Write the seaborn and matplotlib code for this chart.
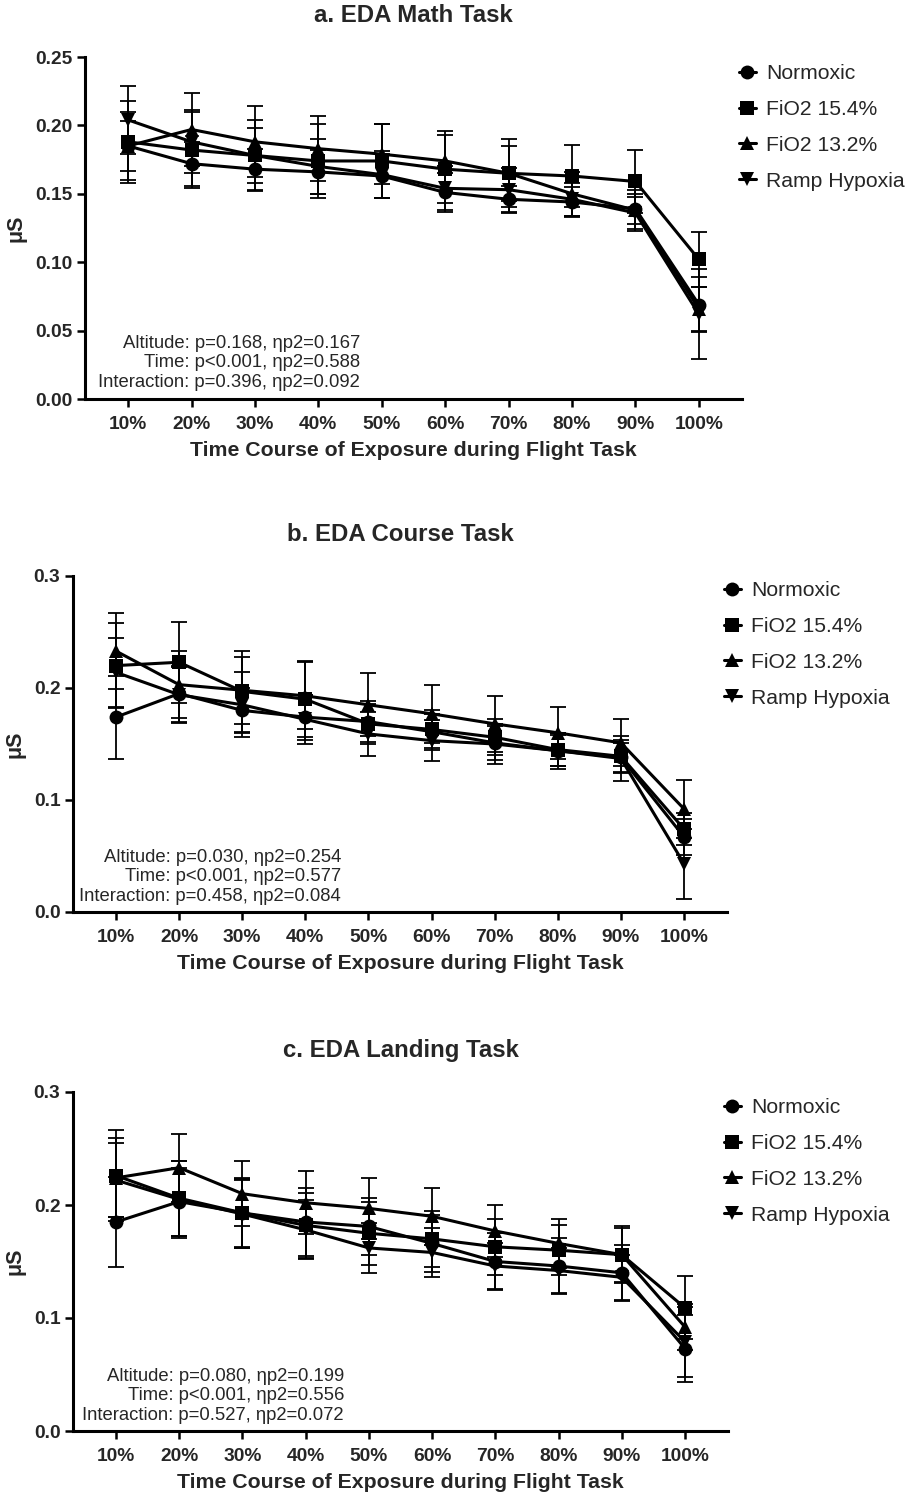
import numpy as np
import pandas as pd
import matplotlib
matplotlib.use("Agg")
import matplotlib.pyplot as plt
from matplotlib.lines import Line2D
import seaborn as sns

sns.set_theme(style="ticks")
plt.rcParams["font.family"] = ["Liberation Sans", "DejaVu Sans"]

# ---- data -------------------------------------------------------------
time_labels = ["10%", "20%", "30%", "40%", "50%", "60%", "70%", "80%", "90%", "100%"]
conditions = ["Normoxic", "FiO2 15.4%", "FiO2 13.2%", "Ramp Hypoxia"]

# a. Math task: means
math_normoxic = [0.185, 0.172, 0.168, 0.166, 0.163, 0.151, 0.146, 0.144, 0.139, 0.069]
math_fio2_154 = [0.188, 0.182, 0.178, 0.174, 0.174, 0.168, 0.165, 0.163, 0.159, 0.102]
math_fio2_132 = [0.185, 0.197, 0.188, 0.183, 0.179, 0.174, 0.165, 0.150, 0.138, 0.066]
math_ramp = [0.204, 0.188, 0.178, 0.170, 0.164, 0.154, 0.153, 0.146, 0.136, 0.062]
# a. Math task: SEM
math_normoxic_sem = [0.018, 0.016, 0.015, 0.016, 0.016, 0.014, 0.010, 0.011, 0.011, 0.020]
math_fio2_154_sem = [0.030, 0.028, 0.026, 0.027, 0.027, 0.025, 0.025, 0.023, 0.023, 0.020]
math_fio2_132_sem = [0.025, 0.027, 0.026, 0.024, 0.022, 0.022, 0.020, 0.016, 0.015, 0.016]
math_ramp_sem = [0.025, 0.023, 0.020, 0.020, 0.017, 0.016, 0.016, 0.012, 0.012, 0.033]

# b. Course task: means
course_normoxic = [0.174, 0.195, 0.180, 0.174, 0.170, 0.161, 0.151, 0.144, 0.138, 0.067]
course_fio2_154 = [0.220, 0.223, 0.197, 0.190, 0.168, 0.163, 0.156, 0.145, 0.139, 0.074]
course_fio2_132 = [0.233, 0.203, 0.198, 0.193, 0.185, 0.177, 0.168, 0.160, 0.151, 0.092]
course_ramp = [0.214, 0.194, 0.185, 0.172, 0.159, 0.153, 0.150, 0.144, 0.137, 0.043]
# b. Course task: SEM
course_normoxic_sem = [0.037, 0.025, 0.020, 0.020, 0.018, 0.016, 0.015, 0.014, 0.013, 0.016]
course_fio2_154_sem = [0.038, 0.036, 0.036, 0.034, 0.018, 0.017, 0.016, 0.015, 0.015, 0.014]
course_fio2_132_sem = [0.034, 0.030, 0.030, 0.030, 0.028, 0.026, 0.025, 0.023, 0.021, 0.026]
course_ramp_sem = [0.031, 0.025, 0.029, 0.022, 0.020, 0.018, 0.018, 0.016, 0.020, 0.031]

# c. Landing task: means
landing_normoxic = [0.185, 0.203, 0.193, 0.185, 0.181, 0.166, 0.150, 0.146, 0.140, 0.073]
landing_fio2_154 = [0.226, 0.206, 0.193, 0.182, 0.175, 0.170, 0.163, 0.160, 0.156, 0.109]
landing_fio2_132 = [0.224, 0.233, 0.210, 0.202, 0.197, 0.190, 0.177, 0.166, 0.156, 0.092]
landing_ramp = [0.222, 0.205, 0.192, 0.178, 0.162, 0.158, 0.146, 0.142, 0.136, 0.079]
# c. Landing task: SEM
landing_normoxic_sem = [0.040, 0.030, 0.030, 0.030, 0.025, 0.025, 0.025, 0.025, 0.025, 0.030]
landing_fio2_154_sem = [0.040, 0.033, 0.031, 0.029, 0.028, 0.025, 0.025, 0.022, 0.024, 0.028]
landing_fio2_132_sem = [0.035, 0.030, 0.029, 0.028, 0.027, 0.025, 0.023, 0.022, 0.025, 0.020]
landing_ramp_sem = [0.033, 0.034, 0.030, 0.026, 0.022, 0.022, 0.020, 0.020, 0.020, 0.031]

titles = ["a. EDA Math Task", "b. EDA Course Task", "c. EDA Landing Task"]
stats_texts = [
    "Altitude: p=0.168, \u03b7p2=0.167\nTime: p<0.001, \u03b7p2=0.588\nInteraction: p=0.396, \u03b7p2=0.092",
    "Altitude: p=0.030, \u03b7p2=0.254\nTime: p<0.001, \u03b7p2=0.577\nInteraction: p=0.458, \u03b7p2=0.084",
    "Altitude: p=0.080, \u03b7p2=0.199\nTime: p<0.001, \u03b7p2=0.556\nInteraction: p=0.527, \u03b7p2=0.072",
]
y_ticks = [[0.00, 0.05, 0.10, 0.15, 0.20, 0.25], [0.0, 0.1, 0.2, 0.3], [0.0, 0.1, 0.2, 0.3]]
y_ticklabels = [["0.00", "0.05", "0.10", "0.15", "0.20", "0.25"],
                ["0.0", "0.1", "0.2", "0.3"], ["0.0", "0.1", "0.2", "0.3"]]

panels = [
    ([math_normoxic, math_fio2_154, math_fio2_132, math_ramp],
     [math_normoxic_sem, math_fio2_154_sem, math_fio2_132_sem, math_ramp_sem]),
    ([course_normoxic, course_fio2_154, course_fio2_132, course_ramp],
     [course_normoxic_sem, course_fio2_154_sem, course_fio2_132_sem, course_ramp_sem]),
    ([landing_normoxic, landing_fio2_154, landing_fio2_132, landing_ramp],
     [landing_normoxic_sem, landing_fio2_154_sem, landing_fio2_132_sem, landing_ramp_sem]),
]

markers = {"Normoxic": "o", "FiO2 15.4%": "s", "FiO2 13.2%": "^", "Ramp Hypoxia": "v"}
palette = {c: "black" for c in conditions}

# ---- layout (pixel geometry of each axes) -----------------------------
W, H = 910, 1496
fig = plt.figure(figsize=(W / 100, H / 100), dpi=100)
axes_px = [(85, 57, 742, 399), (73, 576, 727, 912), (73, 1092, 728, 1431)]
legend_px = [(739, 64), (724, 581), (724, 1098)]
stats_px = [(360, 391), (341, 905), (344, 1424)]

for i, ((means, sems), (l, t, r, b)) in enumerate(zip(panels, axes_px)):
    ax = fig.add_axes([l / W, 1 - b / H, (r - l) / W, (b - t) / H])

    rows = []
    for cond, vals in zip(conditions, means):
        for x, v in enumerate(vals):
            rows.append({"x": x, "EDA": v, "Condition": cond})
    df = pd.DataFrame(rows)

    # error bars underneath the mean lines
    for cond, vals, err in zip(conditions, means, sems):
        ax.errorbar(np.arange(len(vals)), vals, yerr=err, fmt="none",
                    ecolor="black", elinewidth=1.3, capsize=5.5, capthick=1.3,
                    zorder=2)

    sns.lineplot(data=df, x="x", y="EDA", hue="Condition", style="Condition",
                 hue_order=conditions, style_order=conditions, palette=palette,
                 markers=markers, dashes=False, markersize=10, linewidth=2.2,
                 markeredgewidth=0, errorbar=None, legend=False, ax=ax, zorder=3)

    ax.set_xlim(-0.68, 9.68)
    ax.set_ylim(y_ticks[i][0], y_ticks[i][-1])
    ax.set_xticks(range(len(time_labels)))
    ax.set_xticklabels(time_labels, fontsize=13.8, fontweight="bold")
    ax.set_yticks(y_ticks[i])
    ax.set_yticklabels(y_ticklabels[i], fontsize=13.8, fontweight="bold")
    ax.tick_params(axis="both", direction="out", length=6, width=1.8,
                   color="black", pad=3)
    ax.tick_params(axis="x", pad=6)
    for side in ("top", "right"):
        ax.spines[side].set_visible(False)
    for side in ("left", "bottom"):
        ax.spines[side].set_linewidth(2.2)
        ax.spines[side].set_color("black")

    ax.set_xlabel("Time Course of Exposure during Flight Task",
                  fontsize=15.3, fontweight="bold", labelpad=6)
    ax.set_ylabel("\u03bcS", fontsize=15.5, fontweight="bold", labelpad=6)
    ax.set_title(titles[i], fontsize=17.3, fontweight="bold", pad=25)

    sx, sy = stats_px[i]
    fig.text(sx / W, 1 - sy / H, stats_texts[i], ha="right", va="bottom",
             multialignment="right", fontsize=13.3, linespacing=1.2)

    handles = [Line2D([0], [0], color="black", marker=markers[c], markersize=10,
                      linewidth=2.2, markeredgewidth=0) for c in conditions]
    lx, ly = legend_px[i]
    fig.legend(handles, conditions, loc="upper left",
               bbox_to_anchor=(lx / W, 1 - ly / H), frameon=False,
               fontsize=15.2, handlelength=0.8, handletextpad=0.5,
               labelspacing=0.8, borderpad=0, borderaxespad=0)

fig.savefig("out.png", dpi=100)
